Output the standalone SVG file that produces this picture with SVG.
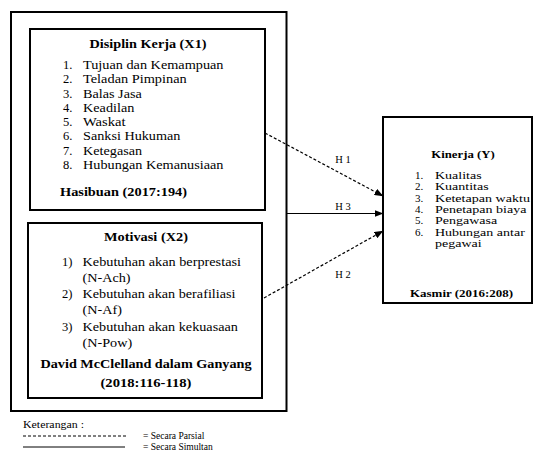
<svg xmlns="http://www.w3.org/2000/svg" width="537" height="456" viewBox="0 0 537 456">
<style>
text { font-family: "Liberation Serif", "Times New Roman", serif; fill: #000; }
.b { font-weight: bold; }
.m { text-anchor: middle; }
.f1 { font-size: 12.5px; }
.fk { font-size: 11px; }
.fh { font-size: 10.5px; }
.fl { font-size: 9.5px; }
.box { fill: #fff; stroke: #000; stroke-width: 2; }
.dash { stroke: #000; stroke-width: 1.2; stroke-dasharray: 3 2; fill: none; }
.solid { stroke: #000; stroke-width: 1.2; fill: none; }
</style>
<defs>
<marker id="arr" markerWidth="9" markerHeight="7" refX="8.5" refY="3.5" orient="auto" markerUnits="userSpaceOnUse">
<path d="M0,0 L9,3.5 L0,7 Z" fill="#000"/>
</marker>
</defs>
<rect width="537" height="456" fill="#fff"/>

<g id="outer">
<rect class="box" x="11" y="12" width="275.5" height="399"/>
</g>

<g id="x1">
<rect class="box" x="30" y="29" width="235" height="181"/>
<text class="f1 b m" x="148" y="47.5" textLength="117" lengthAdjust="spacingAndGlyphs">Disiplin Kerja (X1)</text>
<text class="f1" x="63" y="69">1.</text>
<text class="f1" x="83" y="69" textLength="140.5" lengthAdjust="spacingAndGlyphs">Tujuan dan Kemampuan</text>
<text class="f1" x="63" y="83.25">2.</text>
<text class="f1" x="83" y="83.25" textLength="103.7" lengthAdjust="spacingAndGlyphs">Teladan Pimpinan</text>
<text class="f1" x="63" y="97.5">3.</text>
<text class="f1" x="83" y="97.5" textLength="58.8" lengthAdjust="spacingAndGlyphs">Balas Jasa</text>
<text class="f1" x="63" y="111.75">4.</text>
<text class="f1" x="83" y="111.75" textLength="51.3" lengthAdjust="spacingAndGlyphs">Keadilan</text>
<text class="f1" x="63" y="126">5.</text>
<text class="f1" x="83" y="126" textLength="42.6" lengthAdjust="spacingAndGlyphs">Waskat</text>
<text class="f1" x="63" y="140.25">6.</text>
<text class="f1" x="83" y="140.25" textLength="97.4" lengthAdjust="spacingAndGlyphs">Sanksi Hukuman</text>
<text class="f1" x="63" y="154.5">7.</text>
<text class="f1" x="83" y="154.5" textLength="59.1" lengthAdjust="spacingAndGlyphs">Ketegasan</text>
<text class="f1" x="63" y="168.75">8.</text>
<text class="f1" x="83" y="168.75" textLength="140.5" lengthAdjust="spacingAndGlyphs">Hubungan Kemanusiaan</text>
<text class="f1 b" x="60" y="196" textLength="127" lengthAdjust="spacingAndGlyphs">Hasibuan (2017:194)</text>
</g>

<g id="x2">
<rect class="box" x="28" y="223" width="234" height="175"/>
<text class="f1 b m" x="146" y="241" textLength="84" lengthAdjust="spacingAndGlyphs">Motivasi (X2)</text>
<text class="f1" x="62" y="266">1)</text>
<text class="f1" x="82.5" y="266" textLength="158.5" lengthAdjust="spacingAndGlyphs">Kebutuhan akan berprestasi</text>
<text class="f1" x="82.5" y="281.5" textLength="48.1" lengthAdjust="spacingAndGlyphs">(N-Ach)</text>
<text class="f1" x="62" y="297.5">2)</text>
<text class="f1" x="82.5" y="297.5" textLength="153" lengthAdjust="spacingAndGlyphs">Kebutuhan akan berafiliasi</text>
<text class="f1" x="82.5" y="313.5" textLength="39.4" lengthAdjust="spacingAndGlyphs">(N-Af)</text>
<text class="f1" x="62" y="330.5">3)</text>
<text class="f1" x="82.5" y="330.5" textLength="155.4" lengthAdjust="spacingAndGlyphs">Kebutuhan akan kekuasaan</text>
<text class="f1" x="82.5" y="347" textLength="49.7" lengthAdjust="spacingAndGlyphs">(N-Pow)</text>
<text class="f1 b m" x="146" y="368" textLength="211" lengthAdjust="spacingAndGlyphs">David McClelland dalam Ganyang</text>
<text class="f1 b m" x="146" y="387" textLength="91" lengthAdjust="spacingAndGlyphs">(2018:116-118)</text>
</g>

<g id="y">
<rect class="box" x="383" y="117" width="149" height="186"/>
<text class="fk b m" x="463" y="158" textLength="63.5" lengthAdjust="spacingAndGlyphs">Kinerja (Y)</text>
<text class="fk" x="415" y="179">1.</text>
<text class="fk" x="435" y="179" textLength="46.7" lengthAdjust="spacingAndGlyphs">Kualitas</text>
<text class="fk" x="415" y="190.3">2.</text>
<text class="fk" x="435" y="190.3" textLength="53.7" lengthAdjust="spacingAndGlyphs">Kuantitas</text>
<text class="fk" x="415" y="201.6">3.</text>
<text class="fk" x="435" y="201.6" textLength="95" lengthAdjust="spacingAndGlyphs">Ketetapan waktu</text>
<text class="fk" x="415" y="212.9">4.</text>
<text class="fk" x="435" y="212.9" textLength="91.4" lengthAdjust="spacingAndGlyphs">Penetapan biaya</text>
<text class="fk" x="415" y="224.2">5.</text>
<text class="fk" x="435" y="224.2" textLength="62.2" lengthAdjust="spacingAndGlyphs">Pengawasa</text>
<text class="fk" x="415" y="235.5">6.</text>
<text class="fk" x="435" y="235.5" textLength="89.8" lengthAdjust="spacingAndGlyphs">Hubungan antar</text>
<text class="fk" x="435" y="246.8" textLength="46.6" lengthAdjust="spacingAndGlyphs">pegawai</text>
<text class="fk b" x="410" y="296.5" textLength="103" lengthAdjust="spacingAndGlyphs">Kasmir (2016:208)</text>
</g>

<g id="connectors">
<line class="dash" x1="265" y1="133" x2="383" y2="196" marker-end="url(#arr)"/>
<line class="solid" x1="286.5" y1="213.5" x2="383" y2="213.5" marker-end="url(#arr)"/>
<line class="dash" x1="264" y1="298" x2="383" y2="231" marker-end="url(#arr)"/>
<text class="fh m" x="343" y="163">H 1</text>
<text class="fh m" x="343" y="210">H 3</text>
<text class="fh m" x="343" y="278">H 2</text>
</g>

<g id="legend">
<text class="fl" x="23" y="428" textLength="61" lengthAdjust="spacingAndGlyphs">Keterangan :</text>
<line class="dash" x1="23" y1="436" x2="127" y2="436" style="stroke-width:1"/>
<line class="solid" x1="23" y1="447" x2="125" y2="447" style="stroke-width:1"/>
<text class="fl" x="143" y="439">= Secara Parsial</text>
<text class="fl" x="143" y="450">= Secara Simultan</text>
</g>
</svg>
